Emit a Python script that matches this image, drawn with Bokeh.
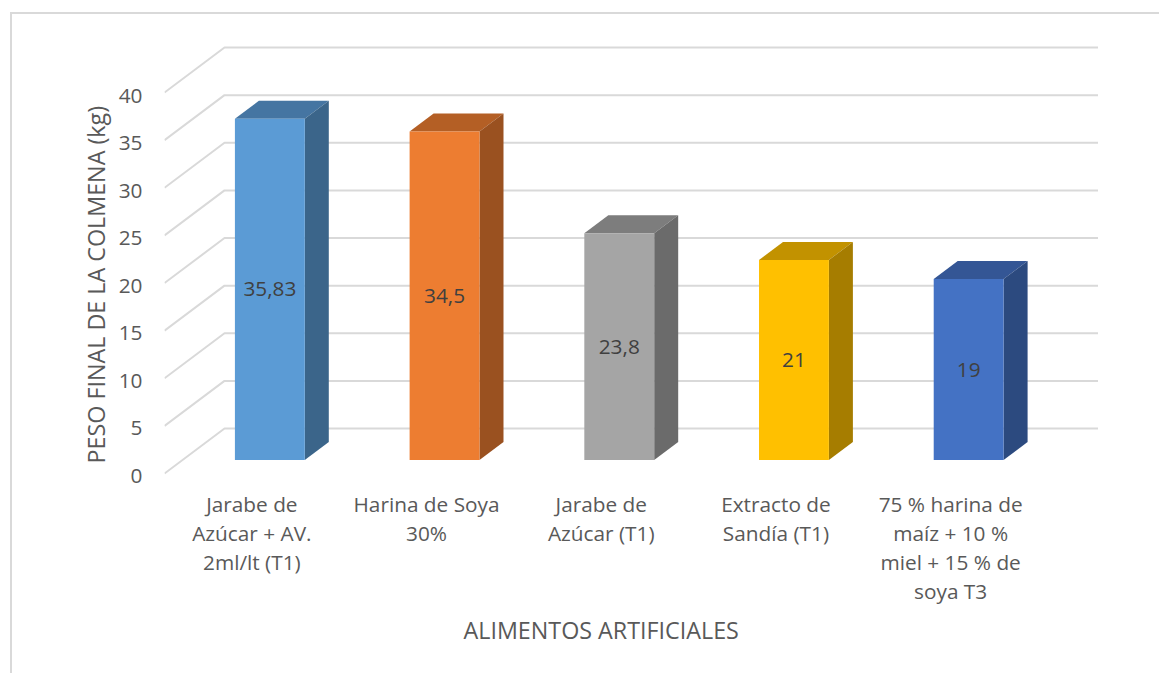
from bokeh.plotting import figure
from bokeh.models import Range1d, FixedTicker, Title
from bokeh.core.properties import value
from bokeh.embed import file_html
from bokeh.resources import INLINE

# --- data ---
categories = [
    "Jarabe de\nAzúcar + AV.\n2ml/lt (T1)",
    "Harina de Soya\n30%",
    "Jarabe de\nAzúcar (T1)",
    "Extracto de\nSandía (T1)",
    "75 % harina de\nmaíz + 10 %\nmiel + 15 % de\nsoya T3",
]
weights = [35.83, 34.5, 23.8, 21, 19]
weight_labels = ["35,83", "34,5", "23,8", "21", "19"]
y_ticks = [0, 5, 10, 15, 20, 25, 30, 35, 40]
front_colors = ["#5B9BD5", "#ED7D31", "#A5A5A5", "#FFC000", "#4472C4"]
top_colors = ["#4575A2", "#B45F25", "#7D7D7D", "#C29200", "#345695"]
side_colors = ["#3B658A", "#9A5120", "#6B6B6B", "#A67D00", "#2C4A7F"]
y_title = "PESO FINAL DE LA COLMENA (kg)"
x_title = "ALIMENTOS ARTIFICIALES"

# --- 3D projection of the chart, in axis units ---
DEPTH_X, DEPTH_Y = 0.3435, 4.72    # shift of the back wall against the front edge
BAR_WIDTH = 0.4
BAR_START, BAR_DEPTH = 0.3, 0.4    # fraction of the floor depth
FONT = "Open Sans"
GREY = "#595959"

p = figure(
    frame_width=995, frame_height=450,
    x_range=Range1d(0, 995 / 174.7), y_range=Range1d(-2 / 9.525, 448 / 9.525),
    min_border_left=152, min_border_right=0, min_border_top=11, min_border_bottom=198,
    toolbar_location=None, output_backend="svg",
    margin=(12, 0, 0, 10),
    styles={"border-top": "2px solid #D9D9D9", "border-left": "2px solid #D9D9D9", "box-sizing": "border-box"},
)
p.extra_y_ranges = {"tick_labels": Range1d(0, 450 / 9.5)}
p.outline_line_color = None
p.grid.visible = False

# axes
xa, ya = p.xaxis[0], p.yaxis[0]
xa.ticker = FixedTicker(ticks=[i + 0.5 for i in range(len(categories))])
xa.major_label_overrides = {i + 0.5: c for i, c in enumerate(categories)}
ya.ticker = FixedTicker(ticks=y_ticks)
ya.y_range_name = "tick_labels"
for ax in (xa, ya):
    ax.axis_line_color = None
    ax.major_tick_line_color = None
    ax.minor_tick_line_color = None
    ax.major_label_text_font = FONT
    ax.major_label_text_font_size = "20.8px"
    ax.major_label_text_color = GREY
xa.major_label_text_line_height = 1.04
xa.major_label_standoff = 8
ya.major_label_standoff = 16

# axis titles
p.add_layout(Title(text=y_title, align="left", offset=12, standoff=8,
                   text_font=FONT, text_font_size="23.3px", text_font_style="normal",
                   text_color=GREY), "left")
p.add_layout(Title(text=x_title, align="left", offset=299, standoff=8,
                   text_font=FONT, text_font_size="23.3px", text_font_style="normal",
                   text_color=GREY), "below")

# gridlines: front edge -> back wall -> right end
n = len(categories)
p.multi_line(
    xs=[[0, DEPTH_X, DEPTH_X + n] for t in y_ticks],
    ys=[[t, t + DEPTH_Y, t + DEPTH_Y] for t in y_ticks],
    line_color="#D9D9D9", line_width=2,
)

# bars
fx, fy, tx, ty, sx, sy = [], [], [], [], [], []
for i, v in enumerate(weights):
    x0 = i + 0.5 - BAR_WIDTH / 2 + BAR_START * DEPTH_X
    x1 = x0 + BAR_WIDTH
    b = BAR_START * DEPTH_Y
    t = b + v
    ox, oy = BAR_DEPTH * DEPTH_X, BAR_DEPTH * DEPTH_Y
    fx.append([x0, x1, x1, x0]); fy.append([b, b, t, t])
    tx.append([x0, x1, x1 + ox, x0 + ox]); ty.append([t, t, t + oy, t + oy])
    sx.append([x1, x1 + ox, x1 + ox, x1]); sy.append([b, b + oy, t + oy, t])
p.patches(tx, ty, fill_color=top_colors, line_color=None)
p.patches(sx, sy, fill_color=side_colors, line_color=None)
p.patches(fx, fy, fill_color=front_colors, line_color=None)

# value labels
p.text(
    x=[i + 0.5 + BAR_START * DEPTH_X for i in range(n)],
    y=[BAR_START * DEPTH_Y + v / 2 for v in weights],
    text=weight_labels,
    text_font=value(FONT), text_font_size="20.8px", text_color="#404040",
    text_align="center", text_baseline="middle",
)

open("out.html", "w").write(file_html(p, INLINE))
